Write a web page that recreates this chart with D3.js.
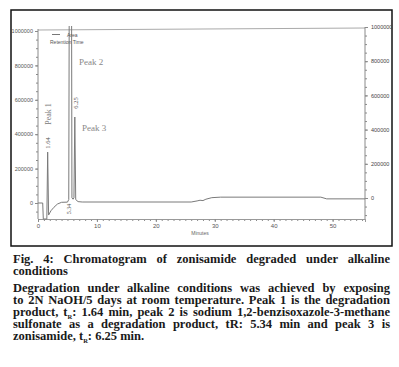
<!DOCTYPE html>
<html><head><meta charset="utf-8">
<script src="https://cdn.jsdelivr.net/npm/d3@7"></script>
<style>body{margin:0;background:#fff}svg{display:block}</style>
</head><body>
<script>
// Data
const times   = [0, 0.8, 0.9, 1.5, 1.64, 1.8, 2.2, 2.7, 3.3, 4.0, 5.0, 5.22, 5.30, 5.70, 5.76, 5.95, 6.1, 6.25, 6.4, 6.8, 7.5, 26.0, 27.0, 27.5, 28.0, 28.5, 29.5, 31.0, 48.0, 49.0, 55.5];
const signals = [0, 0, -93000, -93000, 296000, -70000, -45000, -25000, -6000, 4000, 5000, 20000, 1150000, 1150000, 30000, 22000, 30000, 500000, 20000, 8000, 5800, 5800, 12000, 16000, 14000, 22000, 31000, 34000, 34000, 24000, 24000];
const yTicks = [0, 200000, 400000, 600000, 800000, 1000000];
const xTicks = [0, 10, 20, 30, 40, 50];
const peakLabels = [
  {name: "Peak 1", rt: "1.64"},
  {name: "Peak 2", rt: "5.34"},
  {name: "Peak 3", rt: "6.25"}
];
const legendItems = ["Area", "Retention Time"];
const xTitle = "Minutes";
const captionLines = [
  {t: "Fig. 4: Chromatogram of zonisamide degraded under alkaline", j: true},
  {t: "conditions", j: false},
  {t: "Degradation under alkaline conditions was achieved by exposing", j: true},
  {t: "to 2N NaOH/5 days at room temperature. Peak 1 is the degradation", j: true},
  {t: "product, t|R|: 1.64 min, peak 2 is sodium 1,2-benzisoxazole-3-methane", j: true},
  {t: "sulfonate as a degradation product, tR: 5.34 min and peak 3 is", j: true},
  {t: "zonisamide, t|R|: 6.25 min.", j: false}
];

const W = 399, H = 367;
const svg = d3.select("body").append("svg").attr("width", W).attr("height", H);

// outer frame
svg.append("rect").attr("x", 11).attr("y", 10).attr("width", 381).attr("height", 236)
  .attr("fill", "none").attr("stroke", "#111").attr("stroke-width", 1.5);

const x = d3.scaleLinear().domain([0, 55.5]).range([38, 365]);
const y = d3.scaleLinear().domain([0, 1000000]).range([203, 31]);
const yR = d3.scaleLinear().domain([0, 1000000]).range([198, 27]);
const grey = "#8a8a8a";

// plot top line
svg.append("line").attr("x1", 38).attr("x2", 365).attr("y1", 30).attr("y2", 28)
  .attr("stroke", "#aaa").attr("stroke-width", 1);

// x axis
const xAxis = svg.append("g").attr("transform", "translate(0,219)")
  .call(d3.axisBottom(x).tickValues(d3.range(0, 56, 1)).tickSize(2).tickFormat(""));
const xLab = svg.append("g").attr("transform", "translate(0,219)")
  .call(d3.axisBottom(x).tickValues(xTicks).tickSize(3).tickPadding(2));
[xAxis, xLab].forEach(g => { g.selectAll("path,line").attr("stroke", grey); g.select(".domain").attr("stroke", "#999"); });
xLab.selectAll("text").attr("font-size", 6).attr("fill", "#555").attr("font-family", "Liberation Sans");

svg.append("text").attr("x", 200).attr("y", 235).attr("text-anchor", "middle")
  .attr("font-size", 5).attr("fill", "#666").attr("font-family", "Liberation Sans").text(xTitle);

// left y axis
const yMin = svg.append("g").attr("transform", "translate(38,0)")
  .call(d3.axisLeft(y).tickValues(d3.range(-50000, 1000001, 50000)).tickSize(2).tickFormat(""));
const yL = svg.append("g").attr("transform", "translate(38,0)")
  .call(d3.axisLeft(y).tickValues(yTicks).tickSize(3).tickPadding(2).tickFormat(d3.format("d")));
[yMin, yL].forEach(g => { g.selectAll("path,line").attr("stroke", grey); });
yMin.select(".domain").attr("d", "M-0,219V29");
yL.select(".domain").remove();
yL.selectAll("text").attr("font-size", 5.5).attr("fill", "#555").attr("font-family", "Liberation Sans");

// right y axis
const yRMin = svg.append("g").attr("transform", "translate(365,0)")
  .call(d3.axisRight(yR).tickValues(d3.range(-100000, 1000001, 50000)).tickSize(2).tickFormat(""));
const yRL = svg.append("g").attr("transform", "translate(365,0)")
  .call(d3.axisRight(yR).tickValues(yTicks).tickSize(3).tickPadding(3).tickFormat(d3.format("d")));
[yRMin, yRL].forEach(g => { g.selectAll("path,line").attr("stroke", grey); });
yRMin.select(".domain").attr("d", "M0,219V27");
yRL.select(".domain").remove();
yRL.selectAll("text").attr("font-size", 5.5).attr("fill", "#444").attr("font-family", "Liberation Sans");

// clip
svg.append("clipPath").attr("id", "clip").append("rect")
  .attr("x", 38).attr("y", 26).attr("width", 327).attr("height", 194);

const pts = times.map((t, i) => [t, signals[i]]);
svg.append("path").datum(pts).attr("clip-path", "url(#clip)")
  .attr("fill", "none").attr("stroke", "#7a7a7a").attr("stroke-width", 1)
  .attr("d", d3.line().x(d => x(d[0])).y(d => y(d[1])));

// legend
svg.append("line").attr("x1", 52).attr("x2", 60).attr("y1", 34.5).attr("y2", 34.5).attr("stroke", "#777");
svg.append("text").attr("x", 67).attr("y", 37).attr("font-size", 5).attr("fill", "#555")
  .attr("font-family", "Liberation Sans").text(legendItems[0]);
svg.append("text").attr("x", 50).attr("y", 44).attr("font-size", 5).attr("fill", "#555")
  .attr("font-family", "Liberation Sans").text(legendItems[1]);

// peak labels
const serif = "Liberation Serif";
function rot(txt, cx, cy, fs, col) {
  svg.append("text").attr("transform", `translate(${cx},${cy}) rotate(-90)`)
    .attr("text-anchor", "middle").attr("font-size", fs).attr("fill", col)
    .attr("font-family", serif).text(txt);
}
rot(peakLabels[0].name, x(1.64) + 3, 114, 8, "#777");
rot(peakLabels[0].rt, x(1.64) + 2, 143, 6.5, "#555");
rot(peakLabels[2].rt, x(6.25) + 3, 103, 6.5, "#555");
rot(peakLabels[1].rt, x(5.34) + 2, 209, 6, "#555");
svg.append("text").attr("x", 79).attr("y", 65).attr("font-size", 9).attr("fill", "#888")
  .attr("font-family", serif).text(peakLabels[1].name);
svg.append("text").attr("x", 82).attr("y", 131).attr("font-size", 9).attr("fill", "#888")
  .attr("font-family", serif).text(peakLabels[2].name);

// caption
const capX = 13, capW = 377;
const baselines = [263, 275, 292, 304, 316, 328, 340];
captionLines.forEach((ln, i) => {
  const t = svg.append("text").attr("x", capX).attr("y", baselines[i])
    .attr("font-family", serif).attr("font-weight", "bold").attr("font-size", 12.5)
    .attr("fill", "#1a1a1a").attr("xml:space", "preserve");
  const parts = ln.t.split("|");
  let shift = 0;
  parts.forEach((p, k) => {
    if (k % 2 === 1) {
      t.append("tspan").attr("font-size", 6.5).attr("dy", 2.5).text(p);
      shift = -2.5;
    } else {
      const s = t.append("tspan").text(p);
      if (shift) { s.attr("dy", shift); shift = 0; }
    }
  });
  if (ln.j) {
    const len = t.node().getComputedTextLength();
    const spaces = (ln.t.match(/ /g) || []).length;
    if (spaces) t.attr("word-spacing", (capW - len) / spaces);
  }
});
</script>
</body></html>
